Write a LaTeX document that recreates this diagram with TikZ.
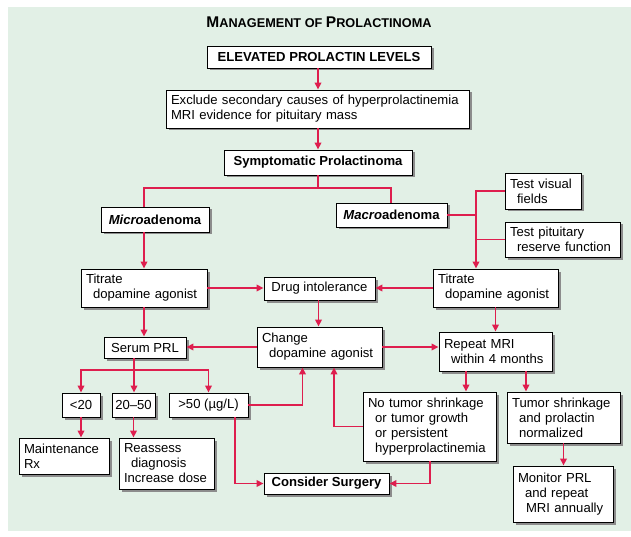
\documentclass[tikz,border=0pt]{standalone}
\usepackage{fontspec}
\setmainfont{Liberation Sans}
\usetikzlibrary{arrows.meta,shadows}
\definecolor{panelbg}{RGB}{226,240,230}
\definecolor{lnred}{RGB}{222,30,78}
\newcommand{\bodyfont}{\fontsize{13.1}{15}\selectfont}
\hyphenpenalty=10000
\begin{document}
\begin{tikzpicture}[x=1pt,y=-1pt,
  bx/.style={draw=black, line width=0.9pt, fill=white,
    drop shadow={shadow xshift=2.5pt, shadow yshift=-2.5pt, fill=black!45, opacity=1},
    inner xsep=5pt, inner ysep=1pt, font=\bodyfont},
  bxl/.style={bx, align=left},
  bxc/.style={bx, align=center, inner xsep=0pt},
  bxb/.style={bxc, font=\bodyfont\bfseries},
  ln/.style={draw=lnred, line width=1.8pt},
  arr/.style={ln, -{Triangle[length=7pt,width=6.5pt]}}]
\useasboundingbox (0,0) rectangle (631,537);
\fill[panelbg] (8,7) rectangle (631,531);
% title
\node[font=\bfseries] (title) at (319,22)
  {{\fontsize{15.5}{17}\selectfont M}{\fontsize{12.7}{15}\selectfont ANAGEMENT OF }{\fontsize{15.5}{17}\selectfont P}{\fontsize{12.7}{15}\selectfont ROLACTINOMA}};
% boxes
\node[bxb, minimum width=224pt, minimum height=22pt] (elev) at (319,57) {ELEVATED PROLACTIN LEVELS};
\node[bxl, text width=293pt, minimum height=38pt] (excl) at (317.5,109) {Exclude secondary causes of hyperprolactinemia\\MRI evidence for pituitary mass};
\node[bxb, minimum width=188pt, minimum height=25pt] (symp) at (318,162.5) {Symptomatic Prolactinoma};
\node[bxb, minimum width=108pt, minimum height=25pt] (micro) at (155,219.5) {\textit{Micro}adenoma};
\node[bxb, minimum width=111pt, minimum height=24pt] (macro) at (391.5,215) {\textit{Macro}adenoma};
\node[bxl, text width=66pt, minimum height=36pt] (tvis) at (543,191) {Test visual\\\hspace*{7pt}fields};
\node[bxl, text width=105pt, minimum height=35pt] (tpit) at (562.5,239.5) {Test pituitary\\\hspace*{7pt}reserve function};
\node[bxl, text width=116pt, minimum height=38pt] (titL) at (144,288) {Titrate\\\hspace*{7pt}dopamine agonist};
\node[bxc, minimum width=111pt, minimum height=23pt] (drug) at (319.5,288.5) {Drug intolerance};
\node[bxl, text width=115pt, minimum height=38pt] (titR) at (495.5,288) {Titrate\\\hspace*{7pt}dopamine agonist};
\node[bxc, minimum width=82pt, minimum height=21pt] (serum) at (145,347.5) {Serum PRL};
\node[bxl, text width=115pt, minimum height=40pt] (change) at (319.5,347) {Change\\\hspace*{7pt}dopamine agonist};
\node[bxl, text width=103pt, minimum height=39pt] (repeat) at (495.5,351.5) {Repeat MRI\\\hspace*{7pt}within 4 months};
\node[bxc, minimum width=38pt, minimum height=24pt] (lt20) at (81,405) {<20};
\node[bxc, minimum width=43pt, minimum height=24pt] (mid) at (133.5,405) {20–50};
\node[bxc, minimum width=79pt, minimum height=24pt] (gt50) at (208.5,405) {>50 (µg/L)};
\node[bxl, text width=80pt, minimum height=36pt] (maint) at (64,456) {Maintenance\\Rx};
\node[bxl, text width=85pt, minimum height=51pt] (reass) at (166.5,463.5) {Reassess\\\hspace*{7pt}diagnosis\\Increase dose};
\node[bxb, minimum width=125pt, minimum height=21pt] (surg) at (326.5,483.5) {Consider Surgery};
\node[bxl, text width=123pt, minimum height=69pt] (notumor) at (429.5,426.5) {No tumor shrinkage\\\hspace*{7pt}or tumor growth\\\hspace*{7pt}or persistent\\\hspace*{7pt}hyperprolactinemia};
\node[bxl, text width=103pt, minimum height=51pt] (tshrink) at (563.5,417.5) {Tumor shrinkage\\\hspace*{7pt}and prolactin\\\hspace*{7pt}normalized};
\node[bxl, text width=90pt, minimum height=56pt] (monitor) at (563,494) {Monitor PRL\\\hspace*{7pt}and repeat\\\hspace*{8pt}MRI annually};
% connectors
\draw[arr] ([xshift=-1pt]elev.south) -- ([xshift=-1pt]elev.south |- excl.north);
\draw[arr] ([xshift=0.5pt]excl.south) -- ([xshift=0.5pt]excl.south |- symp.north);
\coordinate (sj) at (318,188);
\draw[ln] (symp.south) -- (sj);
\draw[ln] (sj) -| ([xshift=-11pt]micro.north);
\draw[ln] (sj) -| ([xshift=-0.5pt]macro.north);
\draw[arr] ([xshift=-11pt]micro.south) -- (titL.north);
\coordinate (vx) at (476,191);
\draw[ln] (macro.east) -- (macro.east -| vx);
\draw[ln] (tpit.west) -- (tpit.west -| vx);
\draw[arr] (tvis.west) -| ([xshift=-19.5pt]titR.north);
\draw[arr] (titL.east) -- (titL.east -| drug.west);
\draw[arr] (titR.west) -- (titR.west -| drug.east);
\draw[arr] ([xshift=-1pt]drug.south) -- ([xshift=-1pt]drug.south |- change.north);
\draw[arr] (titR.south) -- (titR.south |- repeat.north);
\draw[arr] (titL.south) -- (titL.south |- serum.north);
\draw[arr] (change.west) -- (change.west -| serum.east);
\draw[arr] (change.east) -- (change.east -| repeat.west);
\coordinate (pj) at (134,370);
\draw[ln] (serum.south -| pj) -- (pj);
\draw[arr] (pj) -- (pj |- mid.north);
\draw[arr] (pj) -| (lt20.north);
\draw[arr] (pj) -| (gt50.north);
\draw[arr] (lt20.south) -- (lt20.south |- maint.north);
\draw[arr] (mid.south) -- (mid.south |- reass.north);
\draw[arr] (gt50.east) -| ([xshift=-17pt]change.south);
\draw[arr] ([xshift=26.5pt]gt50.south) |- (surg.west);
\draw[arr] (notumor.west) -| ([xshift=14.5pt]change.south);
\draw[arr] ([xshift=0.5pt]notumor.south) |- (surg.east);
\draw[arr] ([xshift=-29.5pt]repeat.south) -- ([xshift=36.5pt]notumor.north);
\draw[arr] ([xshift=30.5pt]repeat.south) -- ([xshift=-37.5pt]tshrink.north);
\draw[arr] (tshrink.south) -- (tshrink.south |- monitor.north);
\end{tikzpicture}
\end{document}
